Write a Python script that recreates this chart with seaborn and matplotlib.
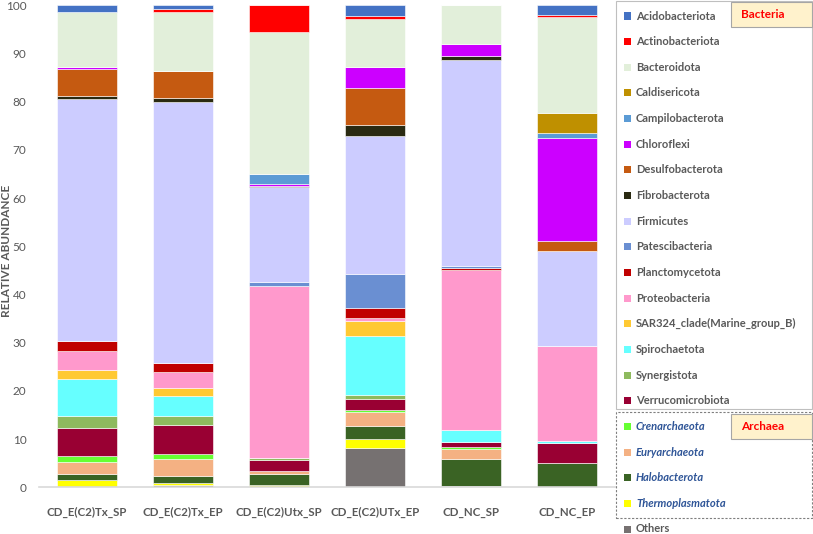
import numpy as np
import pandas as pd
import matplotlib
matplotlib.use("Agg")
import matplotlib.pyplot as plt
from matplotlib.patches import Rectangle
import seaborn as sns

# ---- data (relative abundance, %) ----
samples = ["CD_E(C2)Tx_SP", "CD_E(C2)Tx_EP", "CD_E(C2)Utx_SP",
           "CD_E(C2)UTx_EP", "CD_NC_SP", "CD_NC_EP"]

bacteria = ["Acidobacteriota", "Actinobacteriota", "Bacteroidota", "Caldisericota",
            "Campilobacterota", "Chloroflexi", "Desulfobacterota", "Fibrobacterota",
            "Firmicutes", "Patescibacteria", "Planctomycetota", "Proteobacteria",
            "SAR324_clade(Marine_group_B)", "Spirochaetota", "Synergistota",
            "Verrucomicrobiota"]
archaea = ["Crenarchaeota", "Euryarchaeota", "Halobacterota", "Thermoplasmatota"]
others = ["Others"]

acidobacteriota = [1.4, 0.7, 0.0, 2.3, 0.0, 2.1]
actinobacteriota = [0.0, 0.7, 5.5, 0.5, 0.0, 0.4]
bacteroidota = [11.3, 12.2, 29.4, 9.9, 8.0, 19.8]
caldisericota = [0.0, 0.0, 0.0, 0.2, 0.0, 4.1]
campilobacterota = [0.0, 0.0, 2.1, 0.0, 0.0, 1.2]
chloroflexi = [0.5, 0.0, 0.5, 4.3, 2.5, 21.2]
desulfobacterota = [5.6, 5.7, 0.0, 7.6, 0.0, 2.2]
fibrobacterota = [0.7, 0.8, 0.3, 2.3, 0.9, 0.0]
firmicutes = [50.1, 54.2, 19.7, 28.6, 42.7, 19.7]
patescibacteria = [0.0, 0.0, 0.7, 7.0, 0.3, 0.0]
planctomycetota = [2.1, 1.8, 0.0, 2.2, 0.5, 0.0]
proteobacteria = [4.0, 3.2, 35.8, 0.6, 33.2, 19.7]
sar324 = [1.9, 1.7, 0.0, 3.1, 0.0, 0.0]
spirochaetota = [7.6, 4.2, 0.0, 12.3, 2.5, 0.4]
synergistota = [2.4, 1.9, 0.3, 0.8, 0.0, 0.0]
verrucomicrobiota = [5.9, 5.9, 2.3, 2.3, 1.0, 4.1]
crenarchaeota = [1.2, 1.2, 0.0, 0.4, 0.5, 0.0]
euryarchaeota = [2.6, 3.5, 0.7, 2.9, 2.1, 0.0]
halobacterota = [1.1, 1.4, 2.3, 2.7, 5.5, 5.1]
thermoplasmatota = [1.6, 0.5, 0.4, 1.8, 0.0, 0.0]
others_vals = [0.0, 0.4, 0.0, 8.2, 0.3, 0.0]

values = [acidobacteriota, actinobacteriota, bacteroidota, caldisericota,
          campilobacterota, chloroflexi, desulfobacterota, fibrobacterota,
          firmicutes, patescibacteria, planctomycetota, proteobacteria, sar324,
          spirochaetota, synergistota, verrucomicrobiota, crenarchaeota,
          euryarchaeota, halobacterota, thermoplasmatota, others_vals]

colors = ["#4472C4", "#FF0000", "#E2EFDA", "#BF9000", "#5B9BD5", "#CC00FF",
          "#C55A11", "#2A2A12", "#CCCCFF", "#6A8FD2", "#C00000", "#FF99CC",
          "#FFC933", "#66FFFF", "#8EBA5E", "#990033", "#66FF33", "#F4B183",
          "#3A6324", "#FFFF00", "#767171"]

taxa = bacteria + archaea + others
palette = dict(zip(taxa, colors))

rows = []
for j, s in enumerate(samples):
    for t, v in zip(taxa, values):
        if v[j] > 0:
            rows.append({"sample": s, "taxon": t, "abundance": v[j]})
df = pd.DataFrame(rows)

# ---- plot ----
W, H = 813, 534
sns.set_style("white")
plt.rcParams["font.family"] = ["Lato", "DejaVu Sans"]
fig = plt.figure(figsize=(W / 100, H / 100), dpi=100)
ax = fig.add_axes([39 / W, 1 - 487.3 / H, 576 / W, 482 / H])

sns.histplot(data=df, x="sample", hue="taxon", weights="abundance",
             hue_order=taxa, palette=palette, multiple="stack", discrete=True,
             shrink=0.63, alpha=1, edgecolor="white", linewidth=0.4,
             legend=False, ax=ax)

ax.set_xlim(-0.5, 5.5)
ax.set_ylim(0, 100)
ax.set_yticks(np.arange(0, 101, 10))
ax.set_xlabel("")
ax.set_ylabel("RELATIVE ABUNDANCE", fontsize=8.5, fontweight="bold",
              color="#595959")
ax.yaxis.set_label_coords((12 - 39) / 576, 0.49)
ax.tick_params(axis="y", labelsize=8.5, colors="#595959", length=0, pad=9)
ax.tick_params(axis="x", labelsize=8.3, colors="#595959", length=0, pad=14)
for lab in ax.get_xticklabels():
    lab.set_fontweight("bold")
for side in ["left", "right", "top"]:
    ax.spines[side].set_visible(False)
ax.spines["bottom"].set_color("#D9D9D9")
ax.spines["bottom"].set_linewidth(1.2)


# ---- custom grouped legend (pixel layout) ----
def fx(x):
    return x / W


def fy(y):
    return 1 - y / H


def box(x0, y0, x1, y1, **kw):
    fig.patches.append(Rectangle((fx(x0), fy(y1)), fx(x1) - fx(x0), fy(y0) - fy(y1),
                                 transform=fig.transFigure, **kw))


box(616, 1, 812, 409, fill=False, edgecolor="#BFBFBF", linewidth=0.8)
box(616, 412, 812, 518, fill=False, edgecolor="#7F7F7F", linewidth=0.8,
    linestyle=(0, (2, 1.5)))

step = 25.65
for i, t in enumerate(taxa):
    yc = 16 + i * step
    box(624, yc - 3.5, 631, yc + 3.5, facecolor=palette[t], edgecolor="none")
    if t in archaea:
        fig.text(fx(636), fy(yc), t, fontsize=8, style="italic", fontweight="bold",
                 color="#2F5597", va="center", ha="left")
    else:
        fig.text(fx(636), fy(yc), t, fontsize=8, fontweight="bold",
                 color="#595959", va="center", ha="left")

box(731, 2, 812, 27, facecolor="#FFF2CC", edgecolor="#A6A6A6", linewidth=0.8)
fig.text(fx(741), fy(14.5), "Bacteria", fontsize=8.5, fontweight="bold",
         color="#FF0000", va="center", ha="left")
box(731, 414, 812, 439, facecolor="#FFF2CC", edgecolor="#A6A6A6", linewidth=0.8)
fig.text(fx(741), fy(426.5), "Archaea", fontsize=8.5, fontweight="bold",
         color="#FF0000", va="center", ha="left")

fig.savefig("out.png", dpi=100)
